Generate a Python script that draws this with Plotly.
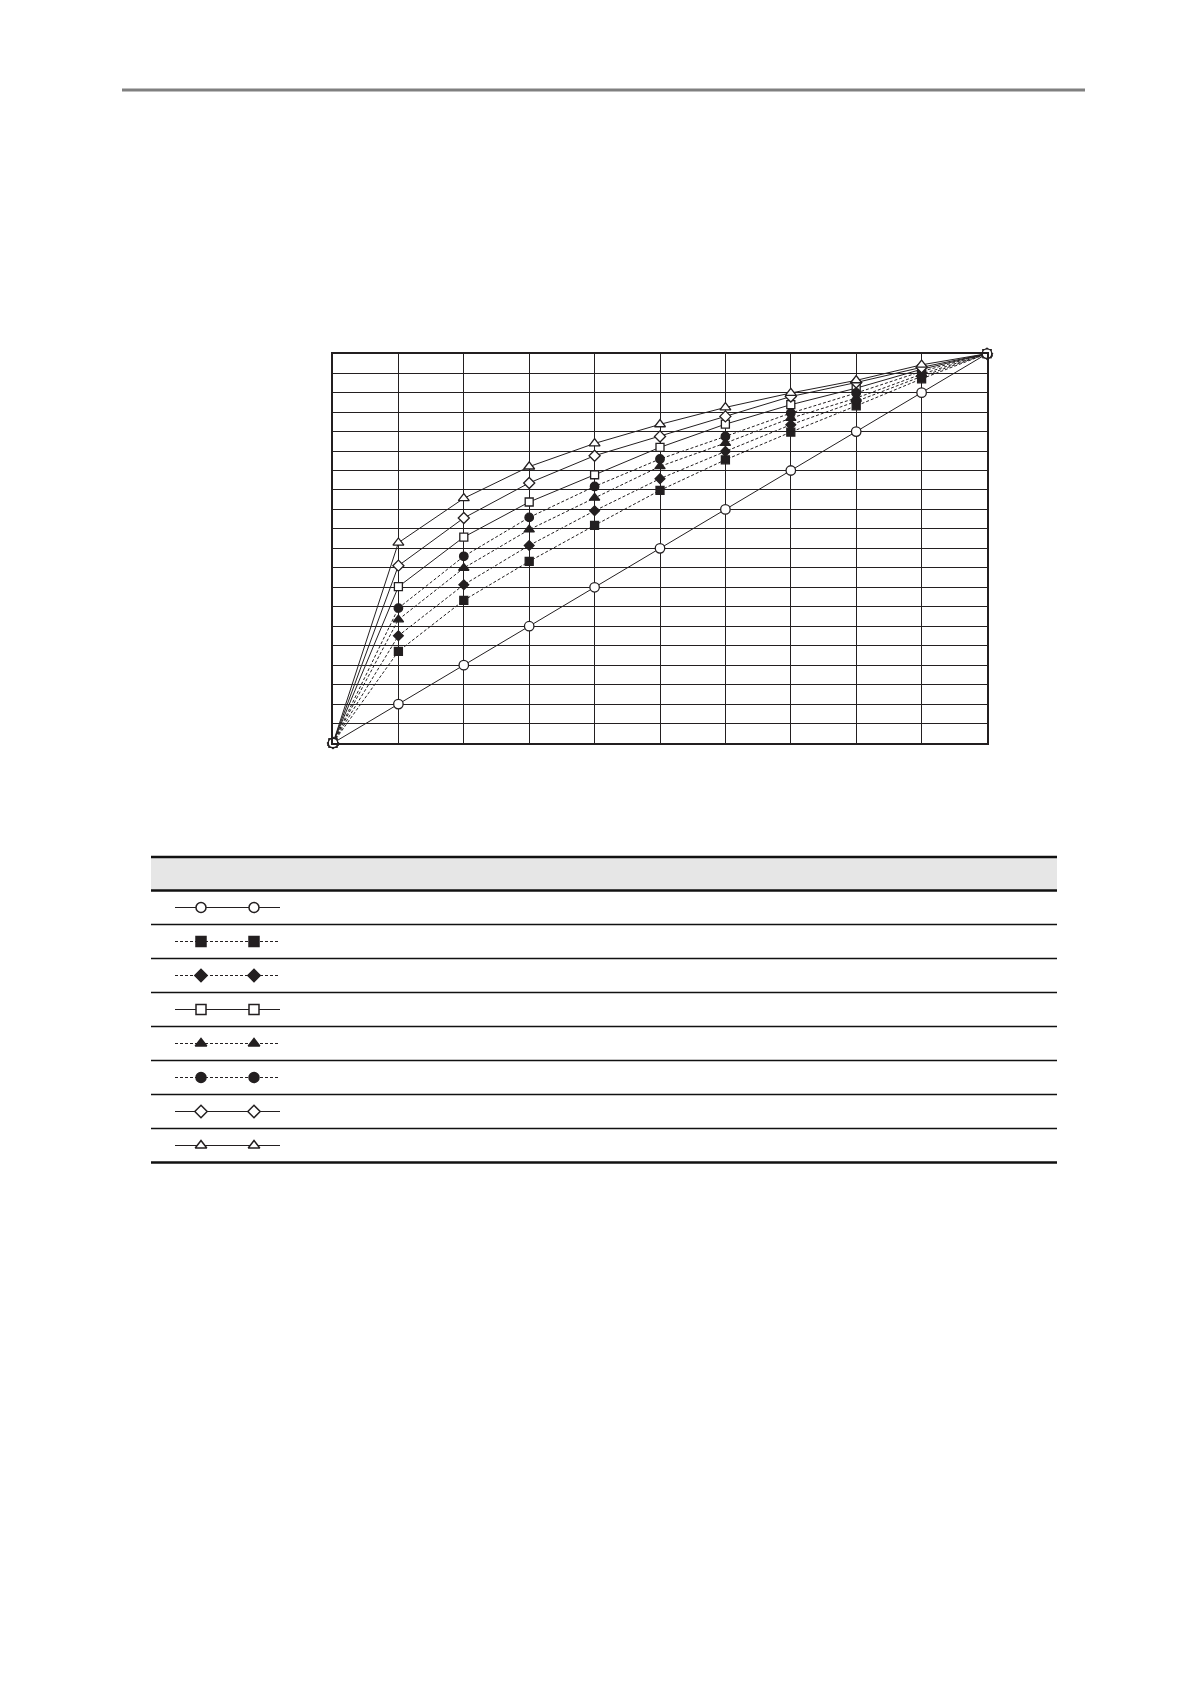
import plotly.graph_objects as go

W, H = 1190, 1684

# x positions 0..10, y in grid units 0..20
x_vals = [0, 1, 2, 3, 4, 5, 6, 7, 8, 9, 10]

open_circle = [0, 2, 4, 6, 8, 10, 12, 14, 16, 18, 20]
filled_square = [0, 4.71, 7.33, 9.33, 11.18, 12.98, 14.55, 15.97, 17.32, 18.71, 20]
filled_diamond = [0, 5.51, 8.13, 10.15, 11.93, 13.58, 14.98, 16.35, 17.55, 18.83, 20]
open_square = [0, 8.03, 10.58, 12.38, 13.78, 15.19, 16.38, 17.38, 18.23, 19.2, 20]
filled_triangle = [0, 6.34, 8.99, 10.96, 12.59, 14.21, 15.41, 16.69, 17.72, 18.95, 20]
filled_circle = [0, 6.93, 9.59, 11.59, 13.18, 14.59, 15.75, 16.95, 17.98, 19.09, 20]
open_diamond = [0, 9.11, 11.56, 13.36, 14.76, 15.75, 16.78, 17.8, 18.52, 19.3, 20]
open_triangle = [0, 10.29, 12.57, 14.2, 15.39, 16.37, 17.24, 17.98, 18.63, 19.43, 20]

INK = "#231f20"

# (values, marker symbol, filled?, dashed?, chart marker size, table marker size)
series = [
    (open_circle, "circle", False, False, 9.5, 10),
    (filled_square, "square", True, True, 8, 10),
    (filled_diamond, "diamond", True, True, 7.5, 9.5),
    (open_square, "square", False, False, 8, 10),
    (filled_triangle, "triangle-up", True, True, 9, 10),
    (filled_circle, "circle", True, True, 8.5, 10),
    (open_diamond, "diamond", False, False, 8.5, 9.5),
    (open_triangle, "triangle-up", False, False, 9.5, 10),
]

fig = go.Figure()

# draw the straight open-circle line last so its end markers sit on top
draw_order = list(range(1, len(series))) + [0]
for i in draw_order:
    vals, sym, filled, dashed, size, _ = series[i]
    fig.add_trace(go.Scatter(
        x=x_vals, y=vals, mode="lines+markers", cliponaxis=False,
        line=dict(color=INK, width=1, dash="3px,2px" if dashed else "solid"),
        marker=dict(symbol=sym, size=size, color=INK if filled else "white",
                    line=dict(color=INK, width=1.3)),
        showlegend=False, hoverinfo="skip",
    ))

# legend table samples (row index 0..7 on a second axis)
sample_x = [167, 193, 246, 272]
for i, (vals, sym, filled, dashed, size, tsize) in enumerate(series):
    row = i + 0.5
    fig.add_trace(go.Scatter(
        x=sample_x, y=[row] * 4, mode="lines", xaxis="x2", yaxis="y2",
        line=dict(color=INK, width=1, dash="3px,2px" if dashed else "solid"),
        showlegend=False, hoverinfo="skip",
    ))
    fig.add_trace(go.Scatter(
        x=sample_x[1:3], y=[row] * 2, mode="markers", xaxis="x2", yaxis="y2",
        cliponaxis=False,
        marker=dict(symbol=sym, size=tsize, color=INK if filled else "white",
                    line=dict(color=INK, width=1.5)),
        showlegend=False, hoverinfo="skip",
    ))

def px_x(v):
    return v / W

def px_y(v):
    return 1 - v / H

shapes = []
# top page rule
shapes.append(dict(type="line", xref="paper", yref="paper",
                   x0=px_x(114), x1=px_x(1077), y0=px_y(82), y1=px_y(82),
                   line=dict(color="#808080", width=3)))
# table header band
t_left, t_right = px_x(143), px_x(1049)
shapes.append(dict(type="rect", xref="paper", yref="paper", layer="below",
                   x0=t_left, x1=t_right, y0=px_y(882), y1=px_y(849),
                   fillcolor="#e6e6e6", line=dict(width=0)))
for yy, w in [(849, 2.5), (882.5, 2.5), (1154.5, 2.5)]:
    shapes.append(dict(type="line", xref="paper", yref="paper",
                       x0=t_left, x1=t_right, y0=px_y(yy), y1=px_y(yy),
                       line=dict(color="#111111", width=w)))
for k in range(1, 8):
    shapes.append(dict(type="line", xref="paper", yref="y2",
                       x0=t_left, x1=t_right, y0=k, y1=k,
                       line=dict(color="#111111", width=1.3)))

fig.update_layout(
    width=W, height=H,
    margin=dict(l=0, r=0, t=0, b=0),
    paper_bgcolor="white", plot_bgcolor="white",
    shapes=shapes,
    xaxis=dict(domain=[px_x(325), px_x(979)], range=[0, 10], dtick=1,
               showgrid=True, gridcolor=INK, gridwidth=1.3,
               showline=True, linecolor=INK, linewidth=2, mirror=True,
               zeroline=False, showticklabels=False, ticks="", fixedrange=True),
    yaxis=dict(domain=[px_y(735), px_y(345.7)], range=[0, 20], dtick=1,
               showgrid=True, gridcolor=INK, gridwidth=1.3,
               showline=True, linecolor=INK, linewidth=2, mirror=True,
               zeroline=False, showticklabels=False, ticks="", fixedrange=True),
    xaxis2=dict(domain=[0, 1], range=[0, W], visible=False, anchor="y2"),
    yaxis2=dict(domain=[px_y(1154.5), px_y(882.5)], range=[8, 0],
                visible=False, anchor="x2"),
)

fig.write_html("out.html")
